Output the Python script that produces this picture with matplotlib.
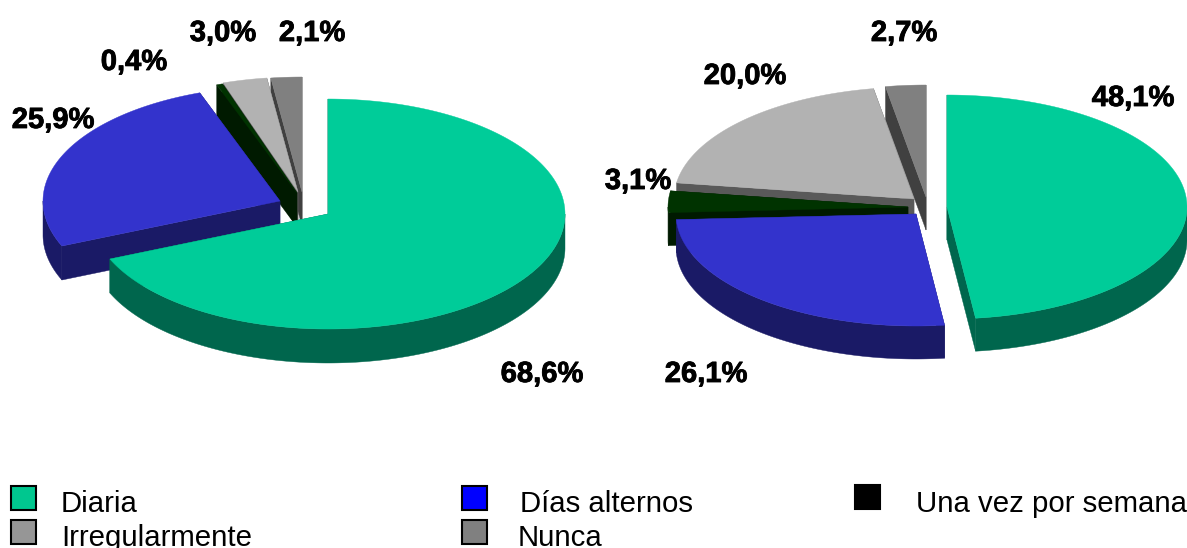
import numpy as np
import matplotlib
matplotlib.use('Agg')
import matplotlib.pyplot as plt
import matplotlib.patheffects as pe
from matplotlib.patches import Rectangle

plt.rcParams['font.family'] = ['Liberation Sans', 'DejaVu Sans']

categories = ['Diaria', 'Días alternos', 'Una vez por semana', 'Irregularmente', 'Nunca']
left_values = [68.6, 25.9, 0.4, 3.0, 2.1]
right_values = [48.1, 26.1, 3.1, 20.0, 2.7]
left_labels = ['68,6%', '25,9%', '0,4%', '3,0%', '2,1%']
right_labels = ['48,1%', '26,1%', '3,1%', '20,0%', '2,7%']

TOP_COLORS = ['#00cc99', '#3333cc', '#003300', '#b2b2b2', '#808080']
SIDE_COLORS = ['#00664d', '#1a1a66', '#001a00', '#595959', '#404040']
LEGEND_COLORS = ['#00c78f', '#0000ff', '#000000', '#969696', '#808080']

# layout, in pixels of the reference
LEFT_PIE = dict(rx=237, ry=115, depth=34,
                apexes=[(328, 214), (280, 201), (297, 193), (298, 192), (302, 192)])
RIGHT_PIE = dict(rx=240, ry=112, depth=33,
                 apexes=[(947, 207), (916, 214), (908, 207), (914, 199), (926, 197)])
LEFT_LABEL_POS = [(542, 374), (53, 120), (134, 62), (223, 33), (312, 33)]
RIGHT_LABEL_POS = [(1133, 98), (706, 374), (638, 181), (745, 76), (904, 33)]
LEGEND_BOXES = [(11, 486), (462, 486), (855, 485), (11, 520), (462, 520)]
LEGEND_TEXT = [(61, 504), (520, 504), (916, 504), (61, 538), (518, 538)]


def _arc(apex, rx, ry, t0, t1):
    # angles in degrees, clockwise from 12 o'clock
    t = np.radians(np.linspace(t0, t1, max(2, int(abs(t1 - t0) * 2))))
    return apex[0] + rx * np.sin(t), apex[1] - ry * np.cos(t)


def _cut_face(ax, apex, rx, ry, depth, angle, color):
    t = np.radians(angle)
    x = apex[0] + rx * np.sin(t)
    y = apex[1] - ry * np.cos(t)
    ax.fill([apex[0], x, x, apex[0]], [apex[1], y, y + depth, apex[1] + depth],
            color=color, linewidth=0.3)


def draw_pie(ax, values, pie):
    rx, ry, depth = pie['rx'], pie['ry'], pie['depth']
    edges = np.concatenate([[0], np.cumsum(values)]) / np.sum(values) * 360
    # back slices first, the first slice ends up on top
    for i in reversed(range(len(values))):
        apex = pie['apexes'][i]
        t0, t1 = edges[i], edges[i + 1]
        _cut_face(ax, apex, rx, ry, depth, t1, SIDE_COLORS[i])
        _cut_face(ax, apex, rx, ry, depth, t0, SIDE_COLORS[i])
        r0, r1 = max(t0, 90), min(t1, 270)
        if r1 > r0:
            xs, ys = _arc(apex, rx, ry, r0, r1)
            ax.fill(np.r_[xs, xs[::-1]], np.r_[ys, ys[::-1] + depth],
                    color=SIDE_COLORS[i], linewidth=0.3)
        xs, ys = _arc(apex, rx, ry, t0, t1)
        ax.fill(np.r_[apex[0], xs], np.r_[apex[1], ys], color=TOP_COLORS[i], linewidth=0.3)


def draw_labels(ax, labels, positions):
    for label, (x, y) in zip(labels, positions):
        ax.text(x, y, label, fontsize=21, fontweight='bold', ha='center', va='center',
                path_effects=[pe.withStroke(linewidth=0.6, foreground='black')])


fig = plt.figure(figsize=(11.87, 5.48), dpi=100)
ax = fig.add_axes([0, 0, 1, 1])
ax.set_xlim(0, 1187)
ax.set_ylim(548, 0)
ax.axis('off')

draw_pie(ax, left_values, LEFT_PIE)
draw_pie(ax, right_values, RIGHT_PIE)
draw_labels(ax, left_labels, LEFT_LABEL_POS)
draw_labels(ax, right_labels, RIGHT_LABEL_POS)

for name, color, box, pos in zip(categories, LEGEND_COLORS, LEGEND_BOXES, LEGEND_TEXT):
    ax.add_patch(Rectangle(box, 25, 24, facecolor=color, edgecolor='black', linewidth=1.5))
    ax.text(pos[0], pos[1], name, fontsize=21.2, ha='left', va='center')

fig.savefig('out.png', dpi=100)
plt.close(fig)
